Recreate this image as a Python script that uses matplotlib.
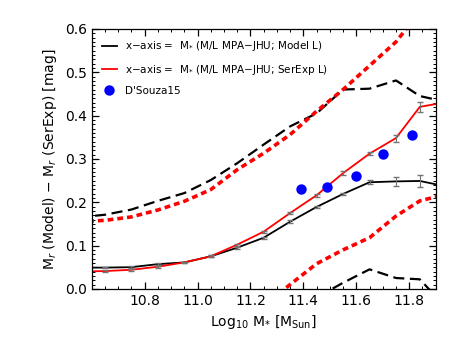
import numpy as np
import matplotlib
matplotlib.use('Agg')
import matplotlib.pyplot as plt
from matplotlib.ticker import MultipleLocator

# stellar mass bins (log10 M*)
mass = [10.55, 10.65, 10.75, 10.85, 10.95, 11.05, 11.15, 11.25, 11.35, 11.45, 11.55, 11.65, 11.75, 11.84, 11.95]

# x-axis = M* (Model L): median and 16/84 percentile envelopes
model_med = [0.049, 0.049, 0.050, 0.057, 0.061, 0.075, 0.095, 0.118, 0.155, 0.189, 0.219, 0.246, 0.248, 0.249, 0.235]
model_err = [0.0, 0.002, 0.002, 0.002, 0.002, 0.002, 0.002, 0.002, 0.003, 0.003, 0.003, 0.005, 0.010, 0.014, 0.0]
model_hi = [0.165, 0.171, 0.183, 0.203, 0.221, 0.251, 0.290, 0.333, 0.375, 0.405, 0.460, 0.462, 0.481, 0.445, 0.430]
model_lo = [None, None, None, None, None, None, None, None, -0.06, -0.020, 0.014, 0.045, 0.025, 0.022, -0.05]

# x-axis = M* (SerExp L)
serexp_med = [0.040, 0.041, 0.044, 0.051, 0.061, 0.075, 0.102, 0.132, 0.175, 0.216, 0.267, 0.312, 0.348, 0.420, 0.432]
serexp_err = [0.0, 0.002, 0.002, 0.002, 0.002, 0.002, 0.002, 0.002, 0.003, 0.003, 0.004, 0.004, 0.008, 0.012, 0.0]
serexp_hi = [0.155, 0.158, 0.166, 0.182, 0.202, 0.229, 0.275, 0.313, 0.356, 0.410, 0.460, 0.515, 0.570, 0.640, 0.700]
serexp_lo = [None, None, None, None, None, None, None, -0.04, 0.010, 0.058, 0.090, 0.118, 0.168, 0.203, 0.220]

# D'Souza et al. 2015
ds_mass = [11.39, 11.49, 11.60, 11.70, 11.81]
ds_diff = [0.231, 0.236, 0.261, 0.312, 0.356]

fig = plt.figure(figsize=(4.63, 3.48), dpi=100)
ax = fig.add_axes([0.198, 0.170, 0.743, 0.747])

def trim(x, y):
    pts = [(a, b) for a, b in zip(x, y) if b is not None]
    return [p[0] for p in pts], [p[1] for p in pts]

ax.plot(mass, model_med, color='k', lw=1.3, label=r'x$-$axis =  M$_{*}$ (M/L MPA$-$JHU; Model L)')
ax.plot(mass, serexp_med, color='r', lw=1.3, label=r'x$-$axis =  M$_{*}$ (M/L MPA$-$JHU; SerExp L)')
ax.errorbar(mass[1:-1], model_med[1:-1], yerr=model_err[1:-1], fmt='none',
            ecolor='0.45', elinewidth=0.8, capsize=2)
ax.errorbar(mass[1:-1], serexp_med[1:-1], yerr=serexp_err[1:-1], fmt='none',
            ecolor='0.45', elinewidth=0.8, capsize=2)

ax.plot(mass, model_hi, color='k', lw=1.6, ls=(0, (5, 2.5)))
ax.plot(*trim(mass, model_lo), color='k', lw=1.6, ls=(0, (5, 2.5)))
ax.plot(mass, serexp_hi, color='r', lw=2.6, ls=(0, (1.6, 1.1)))
ax.plot(*trim(mass, serexp_lo), color='r', lw=2.6, ls=(0, (1.6, 1.1)))

ax.plot(ds_mass, ds_diff, 'o', color='#0000ff', ms=7.5, mec='none', label="D'Souza15")

ax.set_xlim(10.6, 11.9)
ax.set_ylim(0.0, 0.6)
ax.xaxis.set_major_locator(MultipleLocator(0.2))
ax.xaxis.set_minor_locator(MultipleLocator(0.05))
ax.yaxis.set_major_locator(MultipleLocator(0.1))
ax.yaxis.set_minor_locator(MultipleLocator(0.01))
ax.set_xticks([10.8, 11.0, 11.2, 11.4, 11.6, 11.8])
ax.tick_params(which='both', direction='in', top=True, right=True, labelsize=10)
ax.tick_params(which='major', length=5, width=0.9)
ax.tick_params(which='minor', length=2.5, width=0.7)
for s in ax.spines.values():
    s.set_linewidth(0.9)

ax.set_xlabel(r'Log$_{10}$ M$_{*}$ [M$_{\rm Sun}$]', fontsize=10)
ax.set_ylabel(r'M$_{r}$ (Model) $-$ M$_{r}$ (SerExp) [mag]', fontsize=10)

ax.legend(loc='upper left', frameon=False, fontsize=7.5, handlelength=1.4,
          handletextpad=0.8, borderaxespad=0.6, labelspacing=0.9, numpoints=1)

fig.savefig('out.png', dpi=100)
